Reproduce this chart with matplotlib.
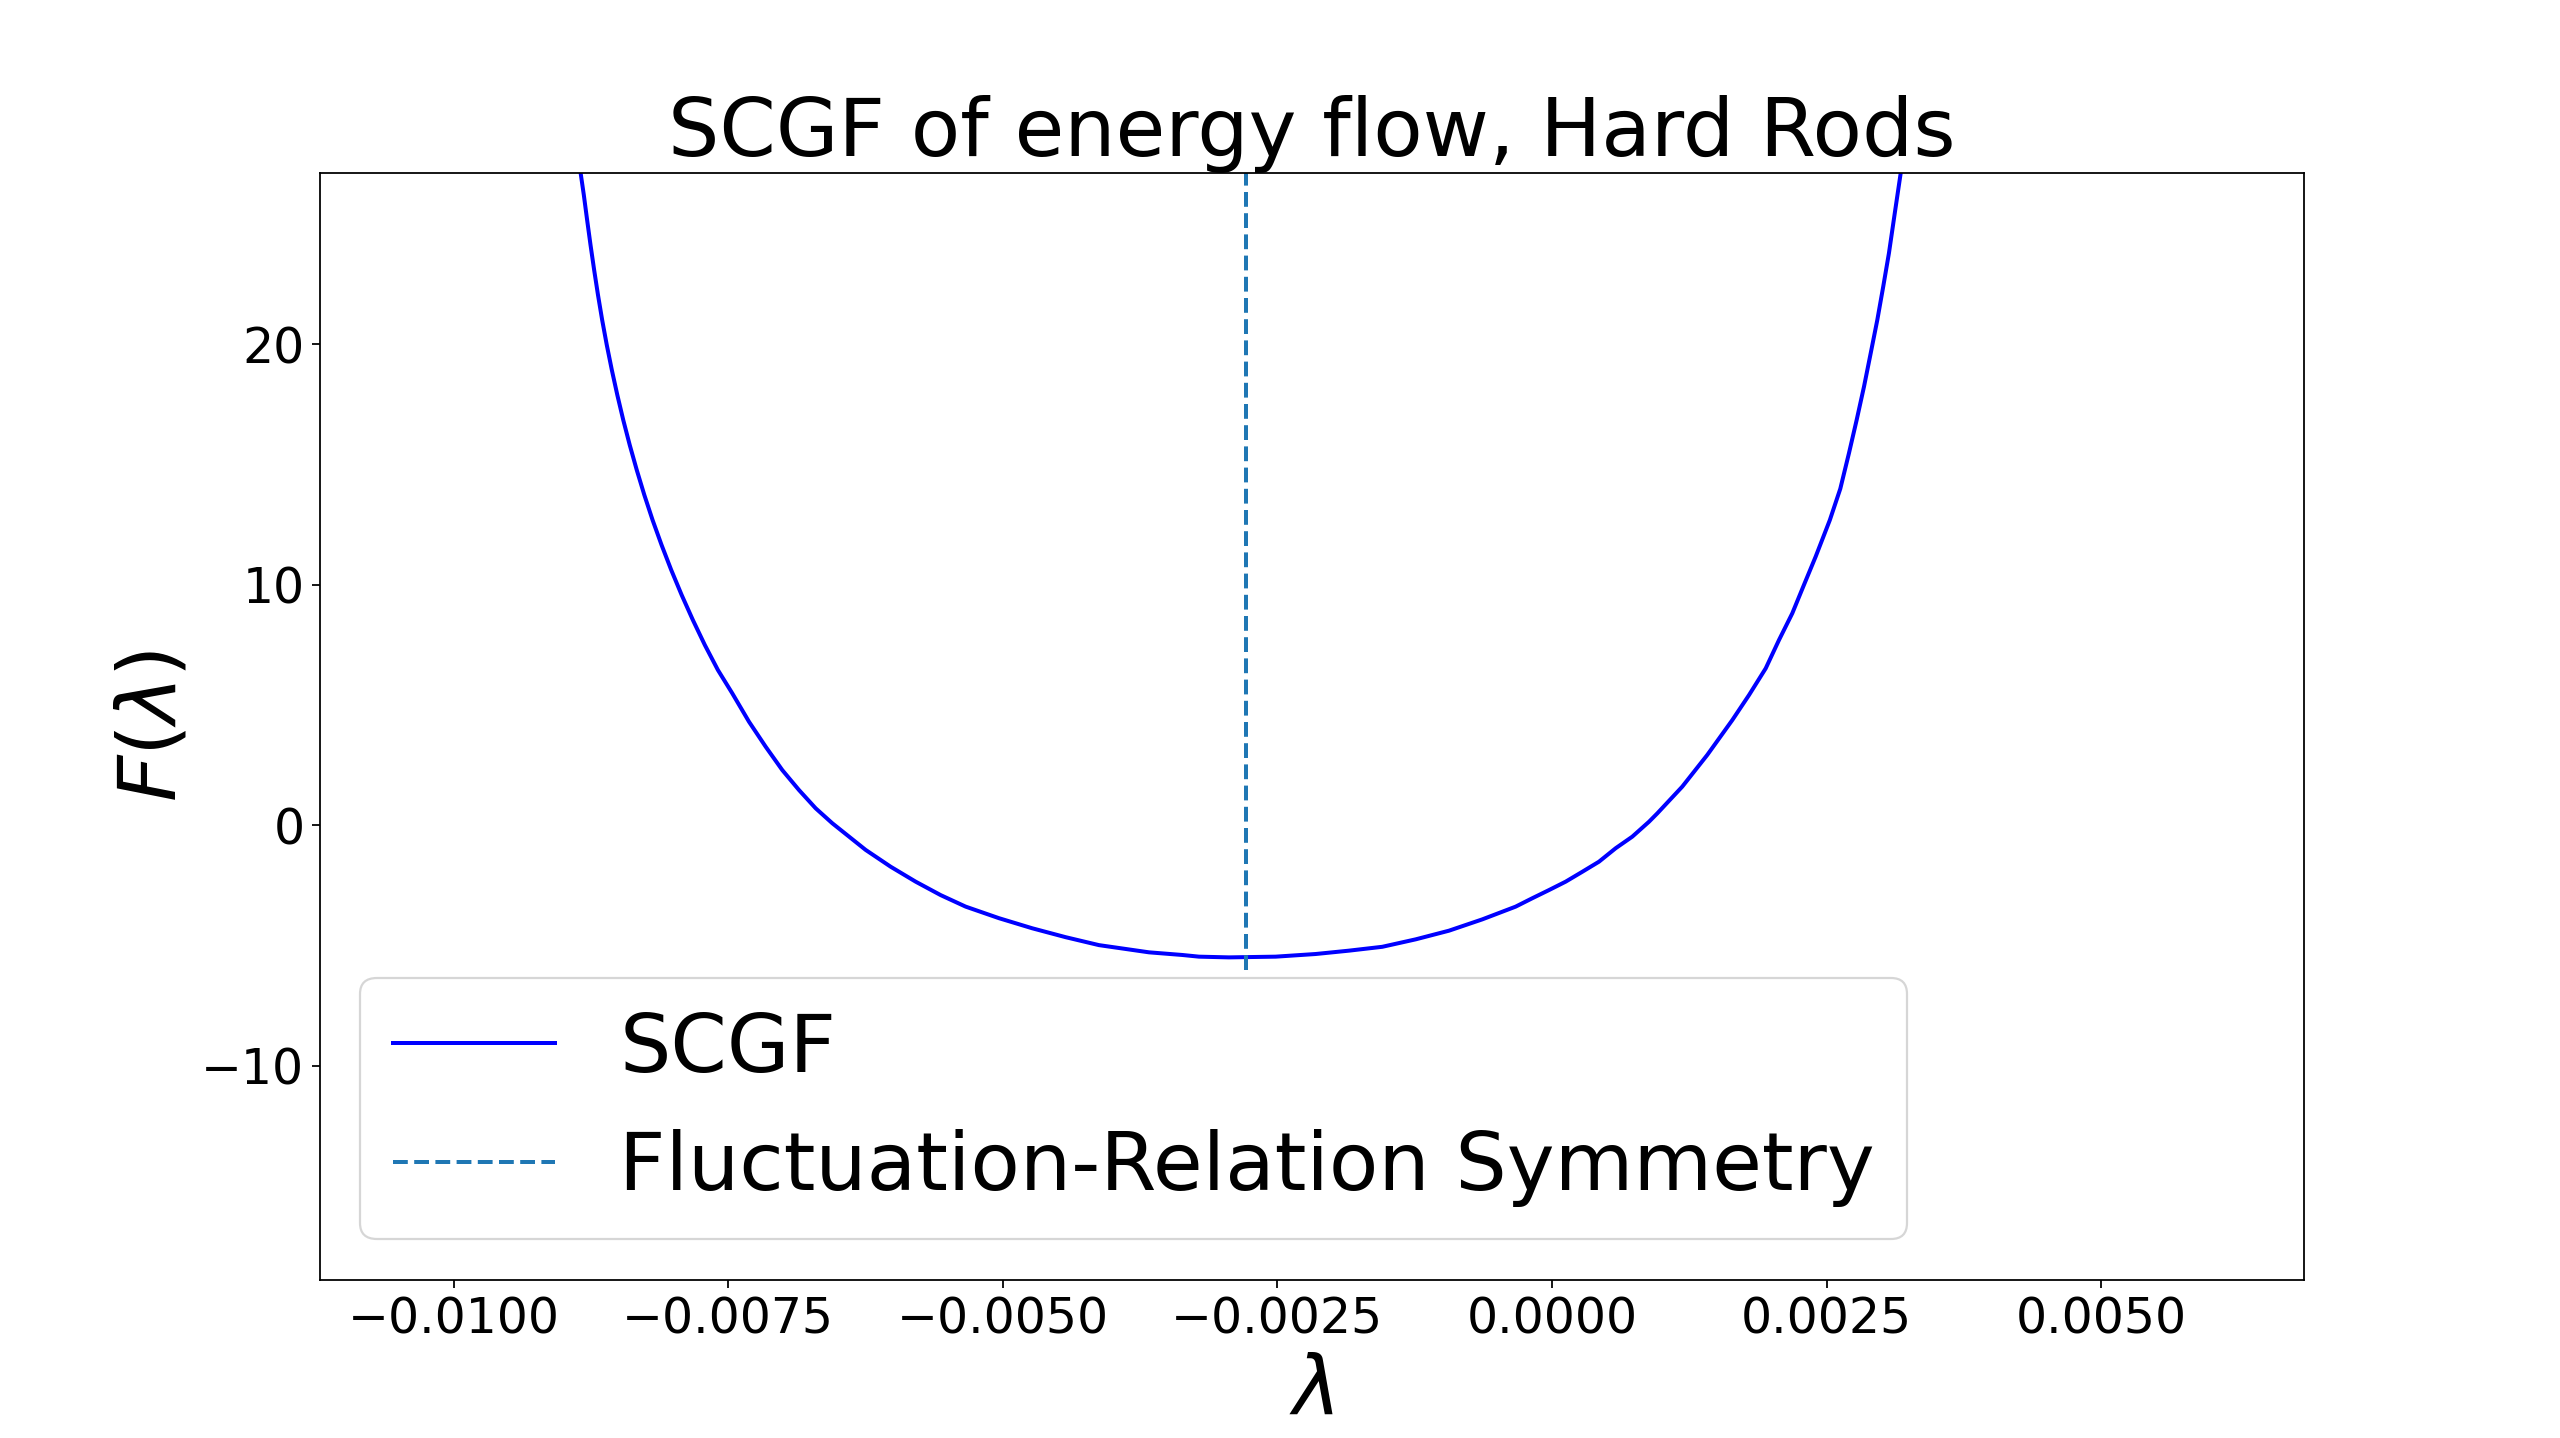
#!/usr/bin/env python3

import numpy as np
import matplotlib
matplotlib.use("Agg")
import matplotlib.pyplot as plt

# SCGF values
lam = [-0.008844, -0.008815, -0.008785, -0.008754, -0.008721, -0.008686,
       -0.008648, -0.008606, -0.008560, -0.008510, -0.008456, -0.008397,
       -0.008333, -0.008264, -0.008189, -0.008107, -0.008019, -0.007924,
       -0.007822, -0.007713, -0.007594, -0.007463, -0.007311, -0.007159,
       -0.007008, -0.006856, -0.006704, -0.006553, -0.006249, -0.006021,
       -0.005794, -0.005566, -0.005338, -0.005035, -0.004732, -0.004428,
       -0.004125, -0.003669, -0.003366, -0.003214, -0.002941, -0.002516,
       -0.002152, -0.001848, -0.001545, -0.001241, -0.000938, -0.000635,
       -0.000331, -0.000179, -0.000027, 0.000125, 0.000276, 0.000428,
       0.000580, 0.000731, 0.000883, 0.000959, 0.001186, 0.001414,
       0.001642, 0.001794, 0.001946, 0.002067, 0.002188, 0.002294,
       0.002401, 0.002530, 0.002625, 0.002704, 0.002774, 0.002841,
       0.002902, 0.002962, 0.003016, 0.003068, 0.003121, 0.003175]
scgf = [27.13, 26.22, 25.18, 24.14, 23.10, 22.06,
        21.02, 19.98, 18.94, 17.90, 16.86, 15.82,
        14.78, 13.74, 12.70, 11.66, 10.62, 9.58,
        8.54, 7.50, 6.46, 5.49, 4.31, 3.27,
        2.30, 1.47, 0.71, 0.09, -1.02, -1.72,
        -2.34, -2.90, -3.38, -3.86, -4.28, -4.65,
        -4.98, -5.28, -5.39, -5.46, -5.49, -5.46,
        -5.35, -5.21, -5.05, -4.74, -4.38, -3.91,
        -3.38, -3.03, -2.69, -2.34, -1.93, -1.51,
        -0.95, -0.47, 0.15, 0.50, 1.61, 2.93,
        4.38, 5.42, 6.53, 7.71, 8.82, 10.00,
        11.18, 12.70, 14.00, 15.48, 16.86, 18.25,
        19.64, 21.02, 22.41, 23.80, 25.46, 27.13]

# fluctuation-relation symmetry point
sym_lambda = -0.00279
sym_ymin = -6.0
sym_ymax = 30.0

xlims = (-0.011217, 0.006847)
ylims = (-18.90, 27.15)

fig, ax = plt.subplots(figsize=(16, 8.9875), dpi=160)

ax.plot(np.array(lam), np.array(scgf), color="b", lw=1.8, label="SCGF")
ax.vlines(sym_lambda, sym_ymin, sym_ymax, colors="#1f77b4", linestyles="dashed",
          lw=1.8, label="Fluctuation-Relation Symmetry")

ax.set_xlim(*xlims)
ax.set_ylim(*ylims)
ax.set_title("SCGF of energy flow, Hard Rods", fontsize=36.4)
ax.set_xlabel(r"$\lambda$", fontsize=36.4)
ax.set_ylabel(r"$F(\lambda)$", fontsize=36.4)
ax.tick_params(labelsize=22)
ax.legend(loc="lower left", fontsize=36.4)

plt.savefig("out.png", dpi=160)
